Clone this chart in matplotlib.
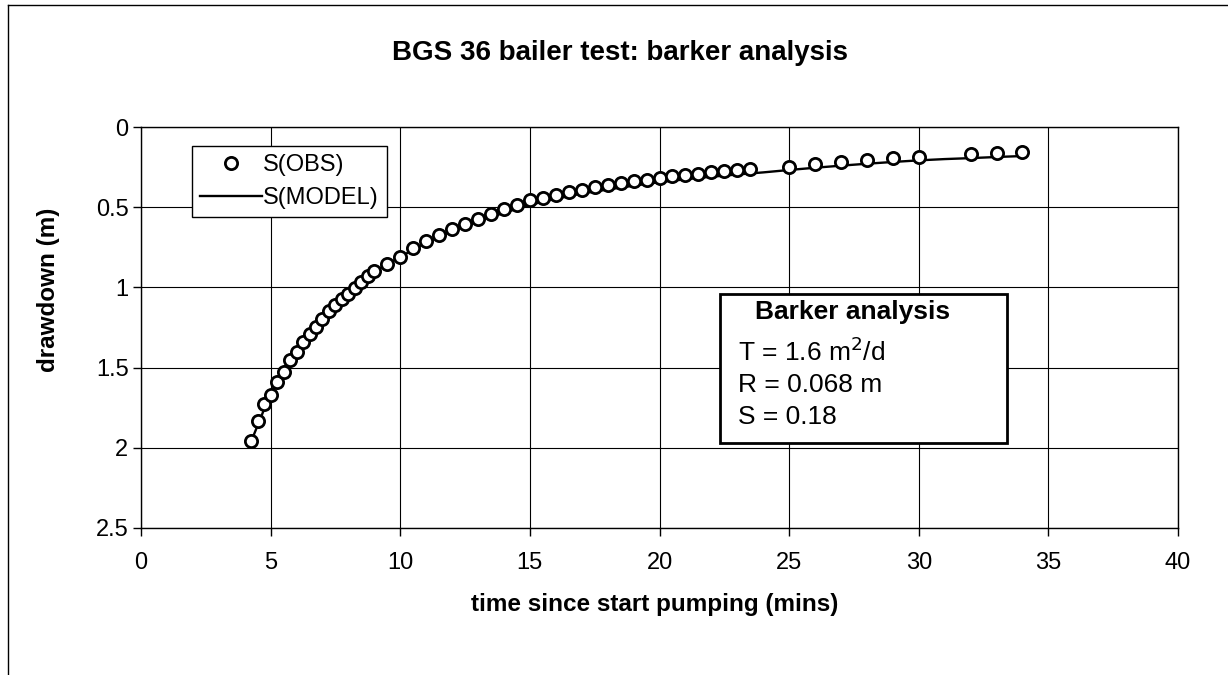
import matplotlib.pyplot as plt
from matplotlib.patches import Rectangle
from matplotlib.lines import Line2D

plt.rcParams['font.family'] = ['Liberation Sans', 'DejaVu Sans']

# observed drawdown
t_obs = [4.25, 4.5, 4.75, 5.0, 5.25, 5.5, 5.75, 6.0, 6.25, 6.5, 6.75, 7.0, 7.25, 7.5,
         7.75, 8.0, 8.25, 8.5, 8.75, 9.0,
         9.5, 10.0, 10.5, 11.0, 11.5, 12.0, 12.5, 13.0, 13.5, 14.0, 14.5, 15.0, 15.5,
         16.0, 16.5, 17.0, 17.5, 18.0, 18.5, 19.0, 19.5, 20.0, 20.5, 21.0, 21.5, 22.0,
         22.5, 23.0, 23.5,
         25, 26, 27, 28, 29, 30, 32, 33, 34]
s_obs = [1.96, 1.83, 1.73, 1.67, 1.59, 1.53, 1.45, 1.40, 1.34, 1.29, 1.245, 1.195, 1.15, 1.11,
         1.074, 1.04, 1.006, 0.964, 0.929, 0.896,
         0.854, 0.812, 0.752, 0.713, 0.675, 0.638, 0.607, 0.574, 0.542, 0.51, 0.486, 0.458, 0.445,
         0.424, 0.407, 0.393, 0.376, 0.363, 0.351, 0.339, 0.330, 0.316, 0.305, 0.299, 0.291, 0.282,
         0.276, 0.268, 0.262,
         0.248, 0.231, 0.218, 0.206, 0.195, 0.185, 0.170, 0.160, 0.154]

# model curve
t_mod = [4.25, 5, 6, 7, 8, 9, 10, 11, 12, 13, 14, 15, 16, 17, 18, 19, 20, 21, 22, 23,
         24, 25, 26, 27, 28, 29, 30, 31, 32, 33, 34]
s_mod = [1.96, 1.66, 1.40, 1.19, 1.04, 0.90, 0.81, 0.72, 0.648, 0.588, 0.535, 0.485, 0.448,
         0.415, 0.39, 0.366, 0.344, 0.326, 0.31, 0.296, 0.283, 0.268, 0.254, 0.241, 0.229,
         0.218, 0.208, 0.2, 0.194, 0.187, 0.181]

fig = plt.figure(figsize=(12.28, 6.75), dpi=100)
ax = fig.add_axes([141 / 1228, 1 - 528 / 675, (1178 - 141) / 1228, (528 - 127) / 675])

ax.plot(t_mod, s_mod, color='black', lw=1.7, zorder=3)
ax.plot(t_obs, s_obs, 'o', ms=8.8, mfc='white', mec='black', mew=2, zorder=4)

ax.set_xlim(0, 40)
ax.set_ylim(2.5, 0)
ax.set_xticks(range(0, 41, 5))
ax.set_yticks([0, 0.5, 1, 1.5, 2, 2.5])
ax.set_yticklabels(['0', '0.5', '1', '1.5', '2', '2.5'])
ax.grid(True, color='black', lw=0.8)
ax.tick_params(labelsize=17, direction='out', length=6, width=1)
ax.tick_params(axis='x', pad=11)
ax.tick_params(axis='y', pad=3)
for sp in ax.spines.values():
    sp.set_color('black')
    sp.set_linewidth(1)

ax.set_xlabel('time since start pumping (mins)', fontsize=17.5, fontweight='bold', va='center')
ax.xaxis.set_label_coords((655 - 141) / 1037, (528 - 605) / 401)
ax.set_ylabel('drawdown (m)', fontsize=17.5, fontweight='bold', va='center')
ax.yaxis.set_label_coords((49 - 141) / 1037, (528 - 290) / 401)

fig.text(620 / 1228, 1 - 53 / 675, 'BGS 36 bailer test: barker analysis', ha='center', va='center',
         fontsize=20, fontweight='bold')

# legend
handles = [Line2D([], [], ls='none', marker='o', ms=8.8, mfc='white', mec='black', mew=2),
           Line2D([], [], color='black', lw=1.7)]
leg = ax.legend(handles, ['S(OBS)', 'S(MODEL)'], loc='upper left',
                bbox_to_anchor=(192 / 1228, 1 - 146 / 675), bbox_transform=fig.transFigure,
                fontsize=17, frameon=True, fancybox=False, framealpha=1, edgecolor='black',
                borderpad=0.35, handlelength=2.6, handletextpad=0.05, labelspacing=0.45,
                borderaxespad=0)
leg.get_frame().set_linewidth(1)

# text box
fig.patches.append(Rectangle((720 / 1228, 1 - 443 / 675), 287 / 1228, 149 / 675,
                             transform=fig.transFigure, fill=True, facecolor='white',
                             edgecolor='black', lw=2, zorder=5))
fig.text(853 / 1228, 1 - 312 / 675, 'Barker analysis', ha='center', va='center',
         fontsize=19, fontweight='bold', zorder=6)
fig.text(738 / 1228, 1 - 352 / 675, 'T = 1.6 m$^2$/d', ha='left', va='center', fontsize=19, zorder=6)
fig.text(738 / 1228, 1 - 385 / 675, 'R = 0.068 m', ha='left', va='center', fontsize=19, zorder=6)
fig.text(738 / 1228, 1 - 417 / 675, 'S = 0.18', ha='left', va='center', fontsize=19, zorder=6)

# page frame
fig.add_artist(Line2D([8 / 1228, 8 / 1228], [0, 1 - 5 / 675], transform=fig.transFigure,
                      color='black', lw=1))
fig.add_artist(Line2D([8 / 1228, 1], [1 - 5 / 675, 1 - 5 / 675], transform=fig.transFigure,
                      color='black', lw=1))

fig.savefig('out.png', dpi=100)
